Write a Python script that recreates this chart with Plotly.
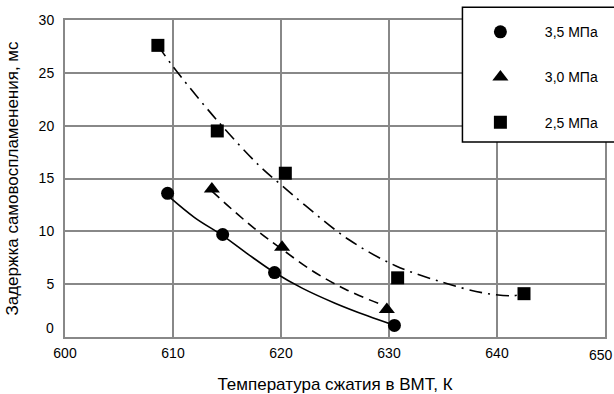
import plotly.graph_objects as go

# Data
x_35 = [609.5, 614.6, 619.4, 630.5]
y_35 = [13.6, 9.7, 6.1, 1.1]

x_30 = [613.6, 620.1, 629.8]
y_30 = [14.0, 8.5, 2.6]

x_25 = [608.6, 614.1, 620.4, 630.8, 642.5]
y_25 = [27.6, 19.5, 15.5, 5.6, 4.1]

# Trend curves
trend_35_x = [609.5, 612.0, 614.6, 617.0, 619.4, 622.0, 625.0, 628.0, 630.5]
trend_35_y = [13.4, 11.3, 9.6, 7.8, 6.1, 4.6, 3.2, 2.0, 1.1]
trend_30_x = [613.6, 616.0, 618.0, 620.1, 623.0, 626.0, 629.2]
trend_30_y = [13.8, 11.6, 9.9, 8.3, 6.2, 4.5, 3.1]
trend_25_x = [608.6, 610.0, 614.0, 618.0, 620.0, 622.3, 626.3, 630.6, 634.9, 638.6, 641.4, 642.5]
trend_25_y = [27.6, 25.6, 20.6, 16.2, 14.4, 12.4, 9.2, 6.75, 5.2, 4.2, 3.9, 4.1]

series_names = ["3,5 МПа", "3,0 МПа", "2,5 МПа"]
x_ticks = [600, 610, 620, 630, 640, 650]
y_ticks = [0, 5, 10, 15, 20, 25, 30]

FONT = "Liberation Sans, Arial, sans-serif"
GRID = "#888888"
PAD = "\u00a0" * 5  # gap between legend symbol and its text

fig = go.Figure()

fig.add_trace(go.Scatter(x=trend_35_x, y=trend_35_y, mode="lines", line_shape="spline",
                         line=dict(color="black", width=1.6), showlegend=False, hoverinfo="skip"))
fig.add_trace(go.Scatter(x=trend_30_x, y=trend_30_y, mode="lines", line_shape="spline",
                         line=dict(color="black", width=1.6, dash="10px,6px"), showlegend=False, hoverinfo="skip"))
fig.add_trace(go.Scatter(x=trend_25_x, y=trend_25_y, mode="lines", line_shape="spline",
                         line=dict(color="black", width=1.6, dash="13px,6px,2px,6px"), showlegend=False, hoverinfo="skip"))

fig.add_trace(go.Scatter(x=x_35, y=y_35, mode="markers", name=PAD + series_names[0], legendgroup="a",
                         marker=dict(symbol="circle", size=13, color="black")))
fig.add_trace(go.Scatter(x=x_30, y=y_30, mode="markers", name=PAD + series_names[1], legendgroup="b",
                         marker=dict(symbol="triangle-up", size=14, color="black")))
fig.add_trace(go.Scatter(x=x_25, y=y_25, mode="markers", name=PAD + series_names[2], legendgroup="c",
                         marker=dict(symbol="square", size=13, color="black")))

annotations = [
    dict(text=str(y_ticks[0]), xref="paper", yref="y", x=0, y=y_ticks[0], xanchor="right", yanchor="middle",
         xshift=-9, yshift=9, showarrow=False, font=dict(family=FONT, size=14)),
    dict(text=str(x_ticks[-1]), xref="x", yref="paper", x=x_ticks[-1], y=0, xanchor="center", yanchor="middle",
         xshift=-4, yshift=-17.5, showarrow=False, font=dict(family=FONT, size=14)),
]

fig.update_layout(
    width=614, height=394,
    margin=dict(l=65, r=9, t=20, b=57),
    paper_bgcolor="white", plot_bgcolor="white",
    font=dict(family=FONT, size=14, color="black"),
    showlegend=True,
    legend=dict(x=0.76, y=1.012, xanchor="left", yanchor="top",
                bgcolor="rgba(0,0,0,0)", borderwidth=0, itemwidth=40,
                tracegroupgap=24, font=dict(family=FONT, size=14)),
    shapes=[dict(type="rect", xref="paper", yref="paper", x0=0.736, x1=1.03, y0=0.615, y1=1.04,
                 line=dict(color="black", width=1.5), fillcolor="white", layer="above")],
    annotations=annotations,
)

fig.update_xaxes(range=[600, 650], tickvals=x_ticks[:-1], ticktext=[str(v) for v in x_ticks[:-1]],
                 showgrid=True, gridcolor=GRID, gridwidth=1.5,
                 showline=True, linecolor=GRID, linewidth=2, mirror=True,
                 zeroline=False, ticks="", ticklabelstandoff=2, automargin=False,
                 title=dict(text="Температура сжатия в ВМТ, К", standoff=18))
fig.update_yaxes(range=[0, 30], tickvals=y_ticks[1:], ticktext=[str(v) for v in y_ticks[1:]],
                 showgrid=True, gridcolor=GRID, gridwidth=1.5,
                 showline=True, linecolor=GRID, linewidth=2, mirror=True,
                 zeroline=False, ticks="", ticklabelstandoff=6, automargin=False,
                 title=dict(text="Задержка самовоспламенения, мс", standoff=16))

fig.write_html("out.html", config={"displayModeBar": False},
               post_script="document.body.style.margin='0px';")
